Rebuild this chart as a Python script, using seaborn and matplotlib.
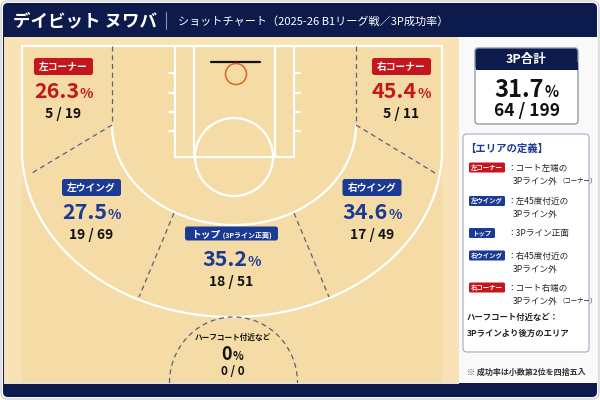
import numpy as np
import matplotlib
matplotlib.use("Agg")
import matplotlib.pyplot as plt
from matplotlib.patches import FancyBboxPatch, Rectangle, Circle
import seaborn as sns

# ---------------- data ----------------
zone_names = ["左コーナー", "右コーナー", "左ウイング", "右ウイング", "トップ", "ハーフコート付近など"]
zone_pct = [26.3, 45.4, 27.5, 34.6, 35.2, 0]
zone_made = [5, 5, 19, 17, 18, 0]
zone_att = [19, 11, 69, 49, 51, 0]
total_pct = 31.7
total_made = 64
total_att = 199
title = "デイビット ヌワバ"
subtitle = "ショットチャート（2025-26 B1リーグ戦／3P成功率）"
def_rows = [("左コーナー", "：コート左端の", "3Pライン外", "（コーナー）"),
            ("左ウイング", "：左45度付近の", "3Pライン外", ""),
            ("トップ", "：3Pライン正面", "", ""),
            ("右ウイング", "：右45度付近の", "3Pライン外", ""),
            ("右コーナー", "：コート右端の", "3Pライン外", "（コーナー）")]

sns.set_theme(style="white")
FAM = ["Noto Sans CJK JP", "DejaVu Sans"]
plt.rcParams["font.family"] = FAM

NAVY = "#0c1a4c"
RED = "#c4161c"
BLUE = "#1b3a94"
WOOD = "#f5dba6"
WOOD2 = "#f8e2b6"
DASH = "#5b6275"

fig = plt.figure(figsize=(6, 4), dpi=100)
ax = fig.add_axes([0, 0, 1, 1])
ax.set_xlim(0, 600)
ax.set_ylim(400, 0)
ax.axis("off")
renderer = fig.canvas.get_renderer()

PX = 100 / 72.0


def txt(x, cy, s, size, color="black", weight="bold", ha="center", **kw):
    return ax.text(x, cy + 0.37 * size * PX, s, fontsize=size, color=color,
                   fontweight=weight, ha=ha, va="baseline", family=FAM, zorder=10, **kw)


def width_of(t):
    bb = t.get_window_extent(renderer=renderer)
    return bb.width


def pair(cx, cy, s1, size1, s2, size2, color, w1="bold", w2="bold", gap=0.5):
    t1 = txt(0, cy, s1, size1, color, w1, ha="left")
    t2 = txt(0, cy, s2, size2, color, w2, ha="left")
    w_1 = width_of(t1)
    w_2 = width_of(t2)
    tot = w_1 + gap + w_2
    x0 = cx - tot / 2
    t1.set_x(x0)
    t2.set_x(x0 + w_1 + gap)
    t2.set_y(t1.get_position()[1])


def rbox(x0, y0, w, h, fc, ec="none", lw=0, r=3, z=2):
    p = FancyBboxPatch((x0, y0), w, h, boxstyle=f"round,pad=0,rounding_size={r}",
                       fc=fc, ec=ec, lw=lw, zorder=z)
    ax.add_patch(p)
    return p


# ------------- frame -------------
rbox(1, 1, 598, 398, "#f9f9f9", ec="#c8c8c8", lw=0.8, r=6, z=0)
rbox(3, 3, 594, 394, NAVY, r=5, z=1)
ax.add_patch(Rectangle((4, 37), 455, 346, fc=WOOD2, ec="none", zorder=1.5))
ax.add_patch(Rectangle((459, 37), 138, 346, fc="#f9f9f9", ec="none", zorder=1.5))

# court
ax.add_patch(Rectangle((22, 46), 420, 337, fc=WOOD, ec="none", zorder=1.6))
ax.add_patch(Rectangle((4, 382.5), 455, 1.2, fc="#dde3ee", ec="none", zorder=1.7))

LW = 1.6
W = "white"
# outer boundary: straight sides + half ellipse
ocx, ocy, oa, ob = 232, 150, 210, 167
th = np.linspace(0, np.pi, 200)
ex = ocx - oa * np.cos(th)
ey = ocy + ob * np.sin(th)
ox = np.concatenate([[ocx - oa], ex, [ocx + oa]])
oy = np.concatenate([[46], ey, [46]])
ax.plot(ox, oy, color=W, lw=LW, zorder=3, solid_capstyle="butt")
ax.plot([22, 442], [46, 46], color=W, lw=LW, zorder=3)

# 3pt line arc
icx, icy, ia, ib = 234, 125, 122, 100
ax.plot(icx - ia * np.cos(th), icy + ib * np.sin(th), color=W, lw=LW, zorder=3)

# lane
ax.add_patch(Rectangle((175, 46), 119, 111, fc="none", ec=W, lw=LW, zorder=3))
ax.plot([194, 194], [46, 157], color=W, lw=LW, zorder=3)
ax.plot([275, 275], [46, 157], color=W, lw=LW, zorder=3)
for hy in [73, 92.5, 112, 131]:
    ax.plot([169, 175], [hy, hy], color=W, lw=LW, zorder=3)
    ax.plot([294, 300], [hy, hy], color=W, lw=LW, zorder=3)
ax.add_patch(Circle((234, 157), 39, fc="none", ec=W, lw=LW, zorder=3))
# backboard & rim
ax.plot([211, 260], [62, 62], color="#111111", lw=1.6, zorder=4)
ax.add_patch(Circle((236, 74), 10.5, fc="none", ec="#d2691e", lw=1.1, zorder=4))

# dashed zone boundaries
dk = dict(color=DASH, lw=0.9, ls=(0, (4, 3)), zorder=3.5)
ax.plot([112, 112], [46, 125], **dk)
ax.plot([112, 32], [125, 173], **dk)
ax.plot([356, 356], [46, 125], **dk)
ax.plot([356, 435], [125, 173], **dk)
ax.plot([174, 139], [213, 297], **dk)
ax.plot([294, 329], [213, 297], **dk)
th2 = np.linspace(np.pi, 2 * np.pi, 120)
ax.plot(233.5 + 64 * np.cos(th2), 383 + 66 * np.sin(th2), **dk)

# ------------- header -------------
txt(13, 20, title, 12.6, "white", ha="left")
ax.plot([166, 166], [12, 29], color="#8a93b0", lw=0.8, zorder=3)
txt(178, 20.5, subtitle, 8, "white", "normal", ha="left")

# ------------- zone labels -------------
zone_pos = [(63.5, 66.5), (401.5, 66.5), (91.5, 187.5), (372, 187.5), (231.5, 233.5), (232.5, 337)]
zone_col = [RED, RED, BLUE, BLUE, BLUE, None]
bw = [59, 59, 59, 59, 93]
for i in range(6):
    x, y = zone_pos[i]
    col = zone_col[i]
    if i < 5:
        bh = 17 if i < 4 else 14
        rbox(x - bw[i] / 2, y - bh / 2, bw[i], bh, col, r=2.5, z=5)
        if i == 4:
            pair(x, y, zone_names[i], 7, " (3Pライン正面)", 5, "white", gap=0)
        else:
            txt(x, y, zone_names[i], 7, "white")
        pc = "{:.1f}".format(zone_pct[i])
        dy = 24 if i < 4 else 24.5
        pair(x, y + dy, pc, 15.5, "%", 10, col)
        txt(x, y + dy + 22.5, f"{zone_made[i]} / {zone_att[i]}", 10, "#111111")
    else:
        txt(x, y, zone_names[i], 5.5, "#111111")
        pair(x, y + 16, "{:.0f}".format(zone_pct[i]), 13, "%", 8, "#111111")
        txt(x, y + 34, f"{zone_made[i]} / {zone_att[i]}", 8.5, "#111111")

# ------------- right panel -------------
rbox(475, 48, 103, 76, "white", ec="#8a90a2", lw=0.9, r=3, z=4)
ax.add_patch(FancyBboxPatch((475.5, 48.5), 102, 21, boxstyle="round,pad=0,rounding_size=3",
                            fc=NAVY, ec="none", zorder=5))
ax.add_patch(Rectangle((475.5, 62), 102, 7.5, fc=NAVY, ec="none", zorder=5))
txt(526.5, 58.5, "3P合計", 9, "white")
pair(526.5, 88, "{:.1f}".format(total_pct), 17, "%", 10.5, "#111111")
txt(526.5, 110, f"{total_made} / {total_att}", 12.5, "#111111")

rbox(463, 134, 126, 218, "white", ec="#aab3cc", lw=0.9, r=4, z=4)
txt(465, 148, "【エリアの定義】", 7.5, BLUE, ha="left")
row_y = [167.5, 201, 233, 255.5, 287.5]
for j, (bn, l1, l2, l3) in enumerate(def_rows):
    y = row_y[j]
    col = RED if "コーナー" in bn else BLUE
    w = 26 if bn == "トップ" else 36
    rbox(469, y - 5, w, 10, col, r=1.5, z=5)
    txt(469 + w / 2, y, bn, 4.6, "white")
    txt(507, y, l1, 6.2, "#222222", "normal", ha="left")
    if l2:
        t = txt(513, y + 13, l2, 6.2, "#222222", "normal", ha="left")
        if l3:
            wv = width_of(t)
            txt(513 + wv + 1, y + 13.3, l3, 4.6, "#222222", "normal", ha="left")
txt(467, 317, "ハーフコート付近など：", 6, "#222222", ha="left")
txt(467, 333, "3Pラインより後方のエリア", 6, "#222222", ha="left")
txt(467, 372, "※ 成功率は小数第2位を四捨五入", 5.8, "#333333", ha="left")

fig.savefig("out.png", dpi=100)
